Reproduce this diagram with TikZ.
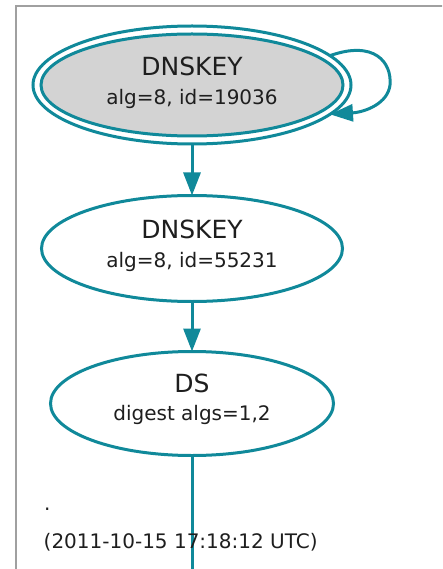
\documentclass[tikz,border=0pt]{standalone}
\usepackage{fontspec}
\setmainfont{DejaVu Sans}
\usetikzlibrary{shapes.geometric,arrows.meta}
\definecolor{tealc}{HTML}{10899A}
\definecolor{framegray}{HTML}{A0A0A0}
\definecolor{keygray}{HTML}{D3D3D3}
\definecolor{txt}{HTML}{1E1E1E}
\begin{document}
\begin{tikzpicture}[x=1pt,y=-1pt,
  ell/.style={ellipse, draw=tealc, line width=3pt, inner sep=0pt, outer sep=0pt},
  big/.style={font=\fontsize{25}{30}\selectfont, anchor=base, inner sep=0pt, text=txt},
  small/.style={font=\fontsize{20}{24}\selectfont, anchor=base, inner sep=0pt, text=txt},
  smallw/.style={small, anchor=base west},
  edge/.style={draw=tealc, line width=3pt, -{Triangle[length=23pt,width=17pt]}},
  plain/.style={draw=tealc, line width=3pt}]
\useasboundingbox (0,0) rectangle (442,569);
\clip (0,0) rectangle (442,569);
% frame
\coordinate (fa) at (16,580);
\coordinate (fb) at (16,6);
\coordinate (fc) at (460,6);
\draw[framegray, line width=2.6pt] (fa) -- (fb) -- (fc);
% top key (double periphery)
\node[ell, fill=white, minimum width=318pt, minimum height=118pt] (k1o) at (192,85) {};
\node[ell, fill=keygray, minimum width=302pt, minimum height=102pt] (k1) at (192,85) {};
\node[big] (t1) at (192,76) {DNSKEY};
\node[small] (s1) at (192,105) {alg=8, id=19036};
% second key
\node[ell, minimum width=301pt, minimum height=106pt] (k2) at (192,248.5) {};
\node[big] (t2) at (192,238) {DNSKEY};
\node[small] (s2) at (192,267.5) {alg=8, id=55231};
% DS
\node[ell, minimum width=283pt, minimum height=104pt] (ds) at (192,403.5) {};
\node[big] (t3) at (192,392) {DS};
\node[small] (s3) at (192,420.5) {digest algs=1,2};
% edges
\draw[edge] (k1o.12) .. controls (374,40) and (392,62) .. (390,85)
  .. controls (388,103) and (366,112) .. (k1o.-12);
\draw[edge] (k1o) -- (k2);
\draw[edge] (k2) -- (ds);
\coordinate (bot) at (192,580);
\draw[plain] (ds) -- (bot);
% labels
\node[smallw] (dot) at (44,510) {.};
\node[smallw] (date) at (43.5,548) {(2011-10-15 17:18:12 UTC)};
\end{tikzpicture}
\end{document}
